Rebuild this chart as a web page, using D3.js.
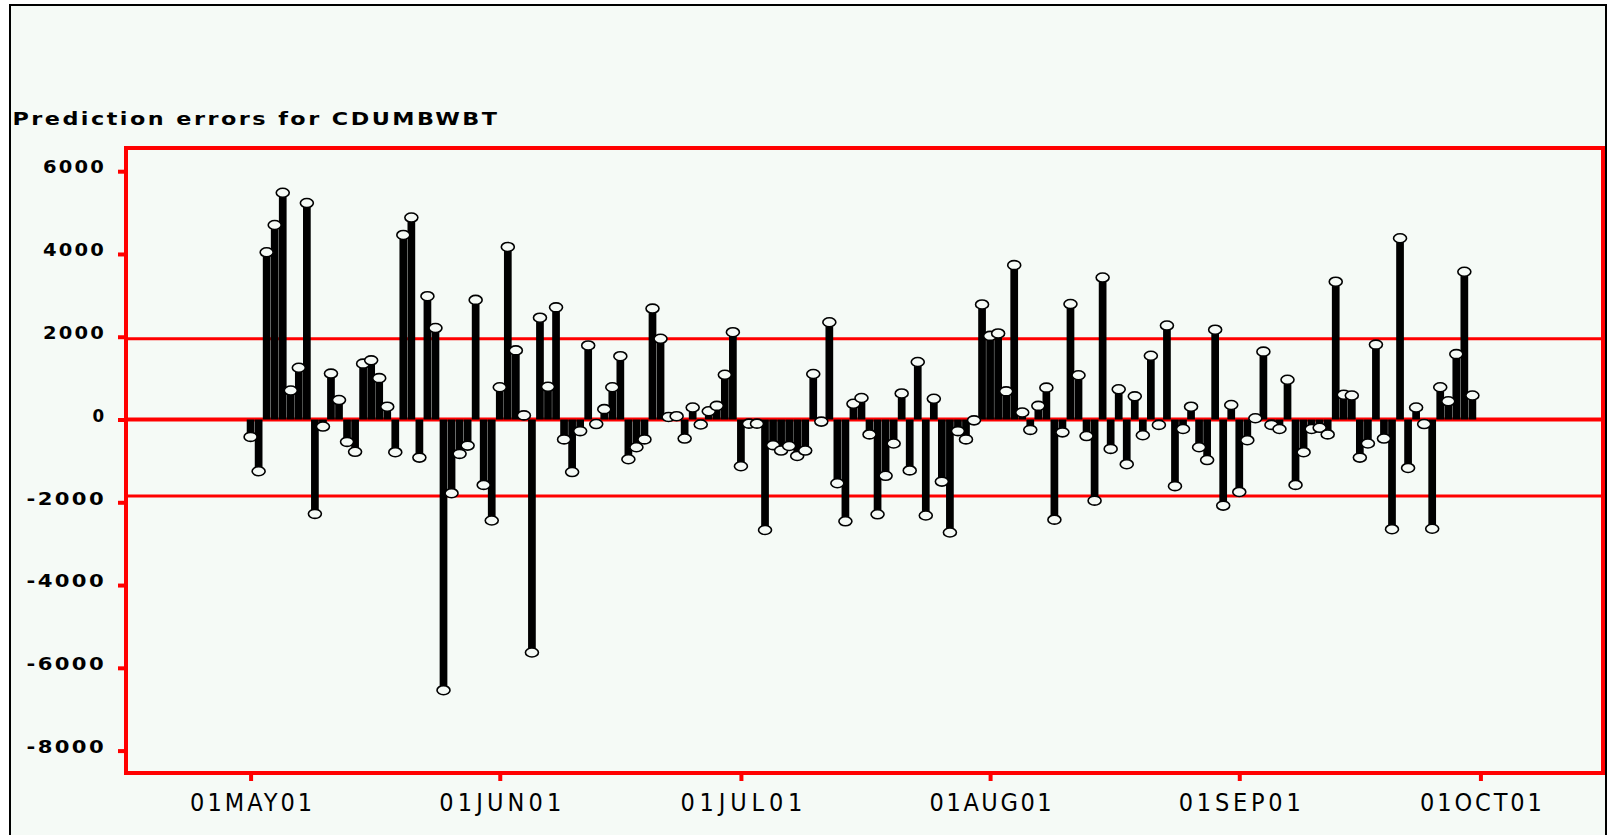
<!DOCTYPE html>
<html>
<head>
  <meta charset='utf-8'>
  <title>Prediction errors for CDUMBWBT</title>
  <script src='https://cdn.jsdelivr.net/npm/d3@7/dist/d3.min.js'></script>
  <style>
    html, body { margin: 0; padding: 0; background: #ffffff; overflow: hidden; }
  </style>
</head>
<body>
  <svg id='plot-area' width='1611' height='835'></svg>
  <script>
    const title = 'Prediction errors for CDUMBWBT';
    const firstDay = Date.UTC(2001, 4, 1);
    // one prediction error per day, 01MAY01 .. 30SEP01
    const errors = [
      -420, -1250, 4040, 4700, 5480, 700, 1250, 5230, -2280, -170,
      1110, 470, -540, -780, 1350, 1430, 1000, 310, -790, 4460,
      4880, -920, 2980, 2210, -6540, -1780, -830, -630, 2890, -1580,
      -2440, 780, 4170, 1670, 100, -5630, 2460, 790, 2710, -480,
      -1270, -280, 1790, -110, 250, 780, 1530, -960, -670, -480,
      2680, 1950, 60, 80, -460, 290, -120, 200, 330, 1080,
      2110, -1130, -100, -100, -2670, -620, -750, -640, -880, -750,
      1100, -50, 2350, -1540, -2460, 380, 520, -360, -2290, -1360,
      -580, 630, -1230, 1390, -2320, 500, -1500, -2730, -280, -480,
      -20, 2780, 2020, 2080, 680, 3730, 170, -250, 330, 770,
      -2420, -310, 2790, 1070, -400, -1960, 3430, -710, 730, -1080,
      560, -380, 1540, -130, 2270, -1610, -230, 310, -670, -980,
      2170, -2080, 350, -1750, -500, 30, 1640, -130, -230, 960,
      -1580, -790, -230, -200, -360, 3330, 600, 580, -920, -580,
      1810, -460, -2650, 4380, -1170, 290, -110, -2640, 780, 440,
      1580, 3570, 580
    ];
    const yTicks = [6000, 4000, 2000, 0, -2000, -4000, -6000, -8000];
    const refLines = [1950, -1850];
    const xTickDates = [
      Date.UTC(2001, 4, 1), Date.UTC(2001, 5, 1), Date.UTC(2001, 6, 1),
      Date.UTC(2001, 7, 1), Date.UTC(2001, 8, 1), Date.UTC(2001, 9, 1)
    ];
    const xTickLabels = ['01MAY01', '01JUN01', '01JUL01', '01AUG01', '01SEP01', '01OCT01'];

    const frame = { left: 126, right: 1603, top: 148, bottom: 773 };
    const bg = '#f5faf6';
    const red = '#ff0000';

    const svg = d3.select('#plot-area');

    svg.append('rect')
        .attr('x', 10).attr('y', 5)
        .attr('width', 1596).attr('height', 900)
        .attr('fill', bg)
        .attr('stroke', '#000')
        .attr('stroke-width', 2);

    svg.append('text')
        .attr('x', 12.5).attr('y', 125)
        .attr('font-family', 'DejaVu Sans, sans-serif')
        .attr('font-weight', 'bold')
        .attr('font-size', 18)
        .attr('textLength', 487)
        .attr('lengthAdjust', 'spacingAndGlyphs')
        .attr('letter-spacing', 2)
        .text(title);

    const scaleX = d3.scaleUtc()
        .domain([Date.UTC(2001, 3, 15, 12), Date.UTC(2001, 9, 16, 6)])
        .range([frame.left, frame.right]);
    const scaleY = d3.scaleLinear()
        .domain([-8000, 6000])
        .range([750.6, 171.2]);

    const data = errors.map((v, i) => ({ date: d3.utcDay.offset(new Date(firstDay), i), value: v }));

    // reference lines
    svg.selectAll('.ref')
        .data(refLines)
        .enter().append('line')
        .attr('x1', frame.left).attr('x2', frame.right)
        .attr('y1', (d) => scaleY(d)).attr('y2', (d) => scaleY(d))
        .attr('stroke', red)
        .attr('stroke-width', 3);
    svg.append('line')
        .attr('x1', frame.left).attr('x2', frame.right)
        .attr('y1', scaleY(0)).attr('y2', scaleY(0))
        .attr('stroke', red)
        .attr('stroke-width', 4);

    const barWidth = (scaleX(d3.utcDay.offset(new Date(firstDay), 1)) - scaleX(new Date(firstDay))) * 0.96;

    svg.append('g').selectAll('rect')
        .data(data)
        .enter().append('rect')
        .attr('x', (d) => scaleX(d.date) - barWidth / 2)
        .attr('width', barWidth)
        .attr('y', (d) => Math.min(scaleY(d.value), scaleY(0)))
        .attr('height', (d) => Math.max(1, Math.abs(scaleY(d.value) - scaleY(0))))
        .attr('fill', '#000');

    svg.append('g').selectAll('ellipse')
        .data(data)
        .enter().append('ellipse')
        .attr('cx', (d) => scaleX(d.date))
        .attr('cy', (d) => scaleY(d.value))
        .attr('rx', 6.5)
        .attr('ry', 4.5)
        .attr('fill', bg)
        .attr('stroke', '#000')
        .attr('stroke-width', 1.6);

    svg.append('rect')
        .attr('x', frame.left).attr('y', frame.top)
        .attr('width', frame.right - frame.left)
        .attr('height', frame.bottom - frame.top)
        .attr('fill', 'none')
        .attr('stroke', red)
        .attr('stroke-width', 4);

    // y axis
    const yAxis = svg.append('g')
        .attr('transform', `translate(${frame.left}, 0)`)
        .call(d3.axisLeft(scaleY).tickValues(yTicks).tickSize(8).tickFormat((d) => String(d)));
    yAxis.select('.domain').remove();
    yAxis.selectAll('.tick line').attr('stroke', red).attr('stroke-width', 4);
    yAxis.selectAll('.tick text')
        .attr('x', -20)
        .attr('y', -4)
        .attr('fill', '#000')
        .attr('font-family', 'DejaVu Sans, sans-serif')
        .attr('font-weight', 'bold')
        .attr('font-size', 18)
        .attr('letter-spacing', 2)
        .attr('textLength', (d) => 16.5 * String(d).length - 3)
        .attr('lengthAdjust', 'spacingAndGlyphs');

    // x axis
    const xAxis = svg.append('g')
        .attr('transform', `translate(0, ${frame.bottom})`)
        .call(d3.axisBottom(scaleX).tickValues(xTickDates.map((d) => new Date(d)))
            .tickSize(8).tickFormat((d, i) => xTickLabels[i]));
    xAxis.select('.domain').remove();
    xAxis.selectAll('.tick line').attr('stroke', red).attr('stroke-width', 4);
    xAxis.selectAll('.tick text')
        .attr('y', 38)
        .attr('dy', 0)
        .attr('fill', '#000')
        .attr('font-family', 'Liberation Sans Narrow, DejaVu Sans Condensed, sans-serif')
        .attr('font-stretch', 'condensed')
        .attr('font-size', 25)
        .attr('textLength', 122)
        .attr('lengthAdjust', 'spacing');
  </script>
</body>
</html>
